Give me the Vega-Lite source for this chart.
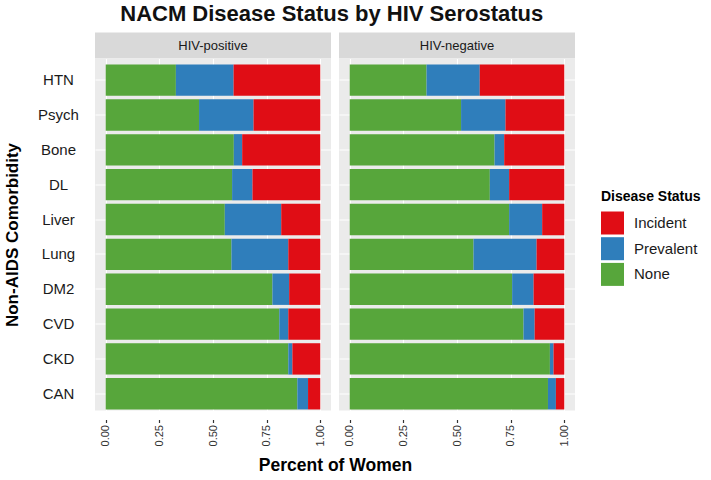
{
  "$schema": "https://vega.github.io/schema/vega-lite/v6.json",
  "background": "white",
  "padding": {"left": 3, "top": 2.5, "right": 5, "bottom": 5},
  "title": {"text": "NACM Disease Status by HIV Serostatus", "fontSize": 22, "fontWeight": "bold", "color": "#111111", "anchor": "middle", "offset": 7, "dx": -20.5},
  "datasets": {
    "strips": [{"group": "HIV-positive"}, {"group": "HIV-negative"}],
    "bars": [
      {"group": "HIV-positive", "comorbidity": "HTN", "status": "None", "pct": 0.327},
      {"group": "HIV-positive", "comorbidity": "HTN", "status": "Prevalent", "pct": 0.269},
      {"group": "HIV-positive", "comorbidity": "HTN", "status": "Incident", "pct": 0.404},
      {"group": "HIV-positive", "comorbidity": "Psych", "status": "None", "pct": 0.435},
      {"group": "HIV-positive", "comorbidity": "Psych", "status": "Prevalent", "pct": 0.254},
      {"group": "HIV-positive", "comorbidity": "Psych", "status": "Incident", "pct": 0.311},
      {"group": "HIV-positive", "comorbidity": "Bone", "status": "None", "pct": 0.597},
      {"group": "HIV-positive", "comorbidity": "Bone", "status": "Prevalent", "pct": 0.039},
      {"group": "HIV-positive", "comorbidity": "Bone", "status": "Incident", "pct": 0.364},
      {"group": "HIV-positive", "comorbidity": "DL", "status": "None", "pct": 0.589},
      {"group": "HIV-positive", "comorbidity": "DL", "status": "Prevalent", "pct": 0.095},
      {"group": "HIV-positive", "comorbidity": "DL", "status": "Incident", "pct": 0.316},
      {"group": "HIV-positive", "comorbidity": "Liver", "status": "None", "pct": 0.555},
      {"group": "HIV-positive", "comorbidity": "Liver", "status": "Prevalent", "pct": 0.263},
      {"group": "HIV-positive", "comorbidity": "Liver", "status": "Incident", "pct": 0.182},
      {"group": "HIV-positive", "comorbidity": "Lung", "status": "None", "pct": 0.586},
      {"group": "HIV-positive", "comorbidity": "Lung", "status": "Prevalent", "pct": 0.265},
      {"group": "HIV-positive", "comorbidity": "Lung", "status": "Incident", "pct": 0.149},
      {"group": "HIV-positive", "comorbidity": "DM2", "status": "None", "pct": 0.777},
      {"group": "HIV-positive", "comorbidity": "DM2", "status": "Prevalent", "pct": 0.078},
      {"group": "HIV-positive", "comorbidity": "DM2", "status": "Incident", "pct": 0.145},
      {"group": "HIV-positive", "comorbidity": "CVD", "status": "None", "pct": 0.809},
      {"group": "HIV-positive", "comorbidity": "CVD", "status": "Prevalent", "pct": 0.042},
      {"group": "HIV-positive", "comorbidity": "CVD", "status": "Incident", "pct": 0.149},
      {"group": "HIV-positive", "comorbidity": "CKD", "status": "None", "pct": 0.851},
      {"group": "HIV-positive", "comorbidity": "CKD", "status": "Prevalent", "pct": 0.019},
      {"group": "HIV-positive", "comorbidity": "CKD", "status": "Incident", "pct": 0.130},
      {"group": "HIV-positive", "comorbidity": "CAN", "status": "None", "pct": 0.893},
      {"group": "HIV-positive", "comorbidity": "CAN", "status": "Prevalent", "pct": 0.050},
      {"group": "HIV-positive", "comorbidity": "CAN", "status": "Incident", "pct": 0.057},
      {"group": "HIV-negative", "comorbidity": "HTN", "status": "None", "pct": 0.358},
      {"group": "HIV-negative", "comorbidity": "HTN", "status": "Prevalent", "pct": 0.248},
      {"group": "HIV-negative", "comorbidity": "HTN", "status": "Incident", "pct": 0.394},
      {"group": "HIV-negative", "comorbidity": "Psych", "status": "None", "pct": 0.519},
      {"group": "HIV-negative", "comorbidity": "Psych", "status": "Prevalent", "pct": 0.207},
      {"group": "HIV-negative", "comorbidity": "Psych", "status": "Incident", "pct": 0.274},
      {"group": "HIV-negative", "comorbidity": "Bone", "status": "None", "pct": 0.675},
      {"group": "HIV-negative", "comorbidity": "Bone", "status": "Prevalent", "pct": 0.045},
      {"group": "HIV-negative", "comorbidity": "Bone", "status": "Incident", "pct": 0.280},
      {"group": "HIV-negative", "comorbidity": "DL", "status": "None", "pct": 0.653},
      {"group": "HIV-negative", "comorbidity": "DL", "status": "Prevalent", "pct": 0.090},
      {"group": "HIV-negative", "comorbidity": "DL", "status": "Incident", "pct": 0.257},
      {"group": "HIV-negative", "comorbidity": "Liver", "status": "None", "pct": 0.743},
      {"group": "HIV-negative", "comorbidity": "Liver", "status": "Prevalent", "pct": 0.154},
      {"group": "HIV-negative", "comorbidity": "Liver", "status": "Incident", "pct": 0.103},
      {"group": "HIV-negative", "comorbidity": "Lung", "status": "None", "pct": 0.577},
      {"group": "HIV-negative", "comorbidity": "Lung", "status": "Prevalent", "pct": 0.294},
      {"group": "HIV-negative", "comorbidity": "Lung", "status": "Incident", "pct": 0.129},
      {"group": "HIV-negative", "comorbidity": "DM2", "status": "None", "pct": 0.757},
      {"group": "HIV-negative", "comorbidity": "DM2", "status": "Prevalent", "pct": 0.100},
      {"group": "HIV-negative", "comorbidity": "DM2", "status": "Incident", "pct": 0.143},
      {"group": "HIV-negative", "comorbidity": "CVD", "status": "None", "pct": 0.810},
      {"group": "HIV-negative", "comorbidity": "CVD", "status": "Prevalent", "pct": 0.052},
      {"group": "HIV-negative", "comorbidity": "CVD", "status": "Incident", "pct": 0.138},
      {"group": "HIV-negative", "comorbidity": "CKD", "status": "None", "pct": 0.933},
      {"group": "HIV-negative", "comorbidity": "CKD", "status": "Prevalent", "pct": 0.017},
      {"group": "HIV-negative", "comorbidity": "CKD", "status": "Incident", "pct": 0.050},
      {"group": "HIV-negative", "comorbidity": "CAN", "status": "None", "pct": 0.924},
      {"group": "HIV-negative", "comorbidity": "CAN", "status": "Prevalent", "pct": 0.037},
      {"group": "HIV-negative", "comorbidity": "CAN", "status": "Incident", "pct": 0.039}
    ]
  },
  "columns": 2,
  "bounds": "flush",
  "spacing": {"column": 8, "row": 0},
  "concat": [
    {
      "data": {"name": "strips"},
      "transform": [{"filter": "datum.group === 'HIV-positive'"}],
      "width": 236,
      "height": 26,
      "view": {"fill": "#D9D9D9", "stroke": null},
      "mark": {"type": "text", "fontSize": 13, "color": "#1A1A1A", "baseline": "middle", "align": "center"},
      "encoding": {"text": {"field": "group"}}
    },
    {
      "data": {"name": "strips"},
      "transform": [{"filter": "datum.group === 'HIV-negative'"}],
      "width": 236,
      "height": 26,
      "view": {"fill": "#D9D9D9", "stroke": null},
      "mark": {"type": "text", "fontSize": 13, "color": "#1A1A1A", "baseline": "middle", "align": "center"},
      "encoding": {"text": {"field": "group"}}
    },
    {
      "data": {"name": "bars"},
      "transform": [
        {"filter": "datum.group === 'HIV-positive'"},
        {"calculate": "indexof(['None','Prevalent','Incident'], datum.status)", "as": "stackOrder"}
      ],
      "width": 236,
      "height": 352,
      "view": {"fill": "#EBEBEB", "stroke": null},
      "mark": {"type": "bar"},
      "encoding": {
        "y": {
          "field": "comorbidity", "type": "nominal",
          "sort": ["HTN", "Psych", "Bone", "DL", "Liver", "Lung", "DM2", "CVD", "CKD", "CAN"],
          "scale": {"paddingInner": 0.1, "paddingOuter": 0.1, "align": 0.85},
          "axis": {"title": "Non-AIDS Comorbidity", "titleFontSize": 17, "titleFontWeight": "bold", "titleColor": "#000000", "titlePadding": 16,
                   "labelAlign": "center", "labelPadding": 37, "labelFontSize": 15, "labelColor": "#1A1A1A",
                   "ticks": false, "tickSize": 0, "domain": false, "grid": true, "gridColor": "#FFFFFF", "gridWidth": 1.1, "bandPosition": 0.5}
        },
        "x": {
          "field": "pct", "type": "quantitative", "stack": "zero",
          "scale": {"domain": [-0.05, 1.05], "nice": false, "zero": false},
          "axis": {"values": [0, 0.25, 0.5, 0.75, 1], "format": ".2f", "labelAngle": 270, "labelFontSize": 11, "labelColor": "#333333",
                   "ticks": true, "tickSize": 3, "tickWidth": 1.2, "tickColor": "#333333", "offset": 9, "labelPadding": 2, "domain": false,
                   "grid": true, "gridColor": "#FFFFFF", "gridWidth": 1.1,
                   "title": "Percent of Women", "titleX": 240, "titleFontSize": 17.5, "titleFontWeight": "bold", "titleColor": "#000000", "titlePadding": 11}
        },
        "color": {
          "field": "status", "type": "nominal",
          "scale": {"domain": ["Incident", "Prevalent", "None"], "range": ["#E00D15", "#2F7EBB", "#57A63B"]},
          "legend": {"title": "Disease Status", "orient": "none", "legendX": 506, "legendY": 157, "symbolType": "square", "symbolSize": 529, "symbolStrokeWidth": 0,
                     "titleFontSize": 14, "titleFontWeight": "bold", "titleColor": "#000000", "labelFontSize": 15, "labelColor": "#1A1A1A",
                     "rowPadding": 2.7, "labelOffset": 10, "titlePadding": 8, "padding": 0}
        },
        "order": {"field": "stackOrder", "type": "quantitative"}
      }
    },
    {
      "data": {"name": "bars"},
      "transform": [
        {"filter": "datum.group === 'HIV-negative'"},
        {"calculate": "indexof(['None','Prevalent','Incident'], datum.status)", "as": "stackOrder"}
      ],
      "width": 236,
      "height": 352,
      "view": {"fill": "#EBEBEB", "stroke": null},
      "mark": {"type": "bar"},
      "encoding": {
        "y": {
          "field": "comorbidity", "type": "nominal",
          "sort": ["HTN", "Psych", "Bone", "DL", "Liver", "Lung", "DM2", "CVD", "CKD", "CAN"],
          "scale": {"paddingInner": 0.1, "paddingOuter": 0.1, "align": 0.85},
          "axis": {"title": null, "labels": false, "ticks": false, "tickSize": 0, "domain": false, "grid": true, "gridColor": "#FFFFFF", "gridWidth": 1.1, "bandPosition": 0.5}
        },
        "x": {
          "field": "pct", "type": "quantitative", "stack": "zero",
          "scale": {"domain": [-0.05, 1.05], "nice": false, "zero": false},
          "axis": {"values": [0, 0.25, 0.5, 0.75, 1], "format": ".2f", "labelAngle": 270, "labelFontSize": 11, "labelColor": "#333333",
                   "ticks": true, "tickSize": 3, "tickWidth": 1.2, "tickColor": "#333333", "offset": 9, "labelPadding": 2, "domain": false,
                   "grid": true, "gridColor": "#FFFFFF", "gridWidth": 1.1, "title": null}
        },
        "color": {
          "field": "status", "type": "nominal",
          "scale": {"domain": ["Incident", "Prevalent", "None"], "range": ["#E00D15", "#2F7EBB", "#57A63B"]},
          "legend": {"title": "Disease Status", "orient": "none", "legendX": 506, "legendY": 157, "symbolType": "square", "symbolSize": 529, "symbolStrokeWidth": 0,
                     "titleFontSize": 14, "titleFontWeight": "bold", "titleColor": "#000000", "labelFontSize": 15, "labelColor": "#1A1A1A",
                     "rowPadding": 2.7, "labelOffset": 10, "titlePadding": 8, "padding": 0}
        },
        "order": {"field": "stackOrder", "type": "quantitative"}
      }
    }
  ],
  "config": {
    "font": "Liberation Sans",
    "legend": {"symbolOpacity": 1},
    "bar": {"opacity": 1}
  }
}
